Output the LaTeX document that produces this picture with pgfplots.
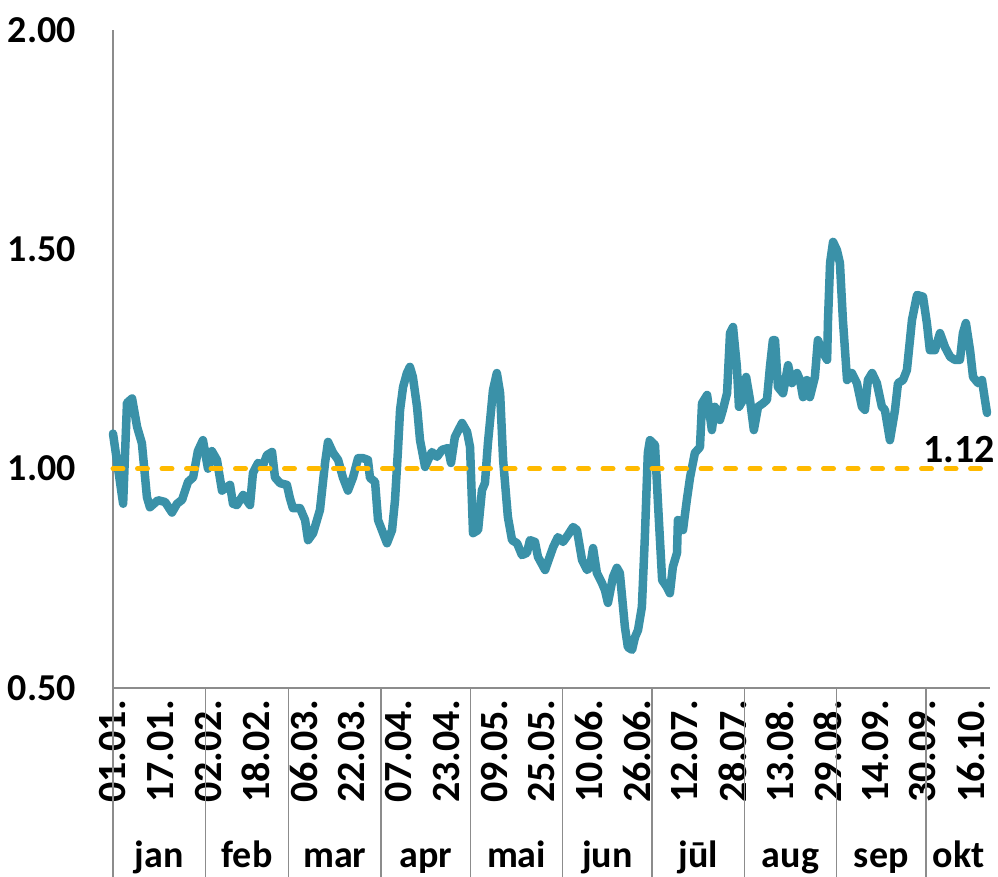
\documentclass[border=0pt]{standalone}
\usepackage{fontspec}
\setmainfont{Carlito}
\usepackage{pgfplots}
\pgfplotsset{compat=1.18}
\definecolor{tealline}{HTML}{3A91A8}
\definecolor{goldline}{HTML}{FFBA00}
\definecolor{axgray}{HTML}{8C8C8C}
\newcommand{\bigf}{\bfseries\fontsize{38}{42}\selectfont}
\newcommand{\datef}{\bfseries\fontsize{40}{44}\selectfont}
\begin{document}
\begin{tikzpicture}
\begin{axis}[
  name=ax,
  scale only axis, width=877pt, height=658pt,
  xmin=0, xmax=294.5, ymin=0.5, ymax=2,
  axis x line=bottom, axis y line=left,
  axis line style={-, axgray, line width=1.5pt},
  major tick length=0pt,
  ytick={0.5,1,1.5,2},
  /pgf/number format/assume math mode=true,
  yticklabel style={/pgf/number format/fixed, /pgf/number format/fixed zerofill,
    /pgf/number format/precision=2, anchor=east, inner sep=0pt, xshift=-37pt, font=\bigf},
  xtick={0,16,...,288},
  xticklabels={01.01.,17.01.,02.02.,18.02.,06.03.,22.03.,07.04.,23.04.,09.05.,25.05.,10.06.,26.06.,12.07.,28.07.,13.08.,29.08.,14.09.,30.09.,16.10.},
  xticklabel style={rotate=90, anchor=east, inner xsep=12pt, inner ysep=0pt, font=\datef},
  tick label style={text=black},
  clip=false,
]
\addplot[tealline, line width=8.5pt, line join=round, line cap=round] coordinates {
(0,1.08)(3.4,0.92)(4.7,1.15)(6.4,1.16)(8.1,1.095)(9.7,1.058)(11.4,0.935)(12.4,0.912)
(15.1,0.928)(17.5,0.924)(19.8,0.90)(21.5,0.92)(23.2,0.929)(25.2,0.97)(26.9,0.98)(28.5,1.04)
(30.2,1.065)(31.9,1.0)(33.2,1.04)(34.9,1.02)(36.6,0.95)(39.3,0.963)(40.3,0.92)(41.6,0.917)
(43.7,0.94)(46.0,0.917)(47.0,0.99)(48.7,1.013)(50.4,1.008)(51.7,1.031)(53.4,1.038)(54.4,0.98)
(56.1,0.967)(58.4,0.963)(59.4,0.933)(60.4,0.91)(62.8,0.91)(64.5,0.883)(65.5,0.837)(67.2,0.853)
(69.5,0.906)(71.2,1.013)(72.2,1.061)(73.9,1.036)(75.6,1.02)(77.2,0.98)(78.9,0.95)(80.6,0.98)
(82.3,1.024)(83.9,1.024)(85.6,1.02)(86.3,0.979)(88.0,0.97)(89.0,0.883)(90.3,0.86)(92.0,0.83)
(93.7,0.86)(94.7,0.928)(95.7,1.043)(96.4,1.134)(97.4,1.186)(98.7,1.218)(99.7,1.232)(100.7,1.209)
(102.1,1.141)(103.1,1.065)(104.8,1.004)(105.8,1.02)(107.1,1.038)(108.8,1.027)(110.5,1.043)(112.5,1.047)
(113.5,1.013)(114.8,1.072)(117.2,1.104)(118.9,1.084)(119.9,1.049)(120.9,0.853)(122.6,0.86)(123.9,0.951)
(124.9,0.967)(125.9,1.058)(127.6,1.179)(128.9,1.218)(130.0,1.172)(131.0,1.02)(132.6,0.89)(134.0,0.837)
(135.7,0.83)(137.3,0.803)(139.0,0.808)(140.0,0.837)(141.7,0.833)(142.7,0.799)(145.1,0.769)(146.7,0.80)
(147.8,0.821)(149.4,0.844)(151.1,0.833)(152.8,0.849)(154.5,0.867)(155.8,0.86)(157.5,0.792)(159.2,0.769)
(160.2,0.776)(161.2,0.819)(162.5,0.762)(164.2,0.739)(165.2,0.723)(166.2,0.694)(167.9,0.753)(169.2,0.774)
(170.2,0.762)(171.9,0.639)(172.9,0.593)(174.3,0.587)(175.3,0.616)(176.3,0.632)(177.6,0.685)(178.6,0.844)
(179.6,1.036)(180.3,1.065)(182.0,1.054)(183.0,0.922)(184.4,0.746)(186.0,0.73)(187.0,0.716)(188.0,0.776)
(189.4,0.808)(189.7,0.883)(191.4,0.86)(192.7,0.929)(193.8,0.981)(195.4,1.036)(197.1,1.049)(197.8,1.149)
(199.5,1.168)(201.1,1.088)(202.1,1.141)(203.8,1.111)(204.8,1.134)(206.2,1.172)(207.2,1.309)(208.2,1.323)
(209.5,1.232)(210.2,1.141)(211.6,1.157)(212.6,1.209)(213.9,1.157)(215.2,1.088)(216.6,1.141)(218.3,1.149)
(219.6,1.157)(220.6,1.232)(221.6,1.293)(222.3,1.293)(223.3,1.186)(225.0,1.172)(226.7,1.236)(228.0,1.195)
(229.7,1.218)(230.7,1.202)(231.7,1.163)(233.0,1.202)(234.0,1.163)(235.7,1.209)(236.7,1.293)(238.0,1.27)
(239.8,1.248)(240.1,1.339)(240.8,1.469)(241.8,1.517)(243.1,1.498)(244.1,1.469)(245.1,1.339)(246.5,1.202)
(248.1,1.218)(249.8,1.195)(251.5,1.141)(252.5,1.134)(253.5,1.202)(254.9,1.218)(256.5,1.195)(258.2,1.141)
(259.2,1.134)(260.9,1.065)(262.6,1.134)(263.6,1.195)(265.3,1.202)(266.6,1.225)(268.3,1.339)(270.0,1.396)
(272.0,1.392)(273.3,1.332)(274.3,1.27)(276.0,1.27)(277.7,1.309)(279.4,1.277)(281.1,1.255)(282.7,1.248)
(284.4,1.248)(285.4,1.309)(286.4,1.332)(287.8,1.27)(288.8,1.209)(290.5,1.195)(291.8,1.202)(292.8,1.157)
(293.5,1.127)
};
\addplot[goldline, line width=5pt, line cap=round, dash pattern=on 10pt off 14.5pt] coordinates {(0,1) (294.5,1)};
\node[anchor=base east, inner sep=0pt, font=\datef, xshift=5pt, yshift=6pt] at (axis cs:294.5,1) {1.12};
\draw[axgray, line width=1.5pt] (axis cs:0,0.5) -- ++(0pt,-189pt);
\draw[axgray, line width=1.5pt] (axis cs:31,0.5) -- ++(0pt,-189pt);
\draw[axgray, line width=1.5pt] (axis cs:59,0.5) -- ++(0pt,-189pt);
\draw[axgray, line width=1.5pt] (axis cs:90,0.5) -- ++(0pt,-189pt);
\draw[axgray, line width=1.5pt] (axis cs:120,0.5) -- ++(0pt,-189pt);
\draw[axgray, line width=1.5pt] (axis cs:151,0.5) -- ++(0pt,-189pt);
\draw[axgray, line width=1.5pt] (axis cs:181,0.5) -- ++(0pt,-189pt);
\draw[axgray, line width=1.5pt] (axis cs:212,0.5) -- ++(0pt,-189pt);
\draw[axgray, line width=1.5pt] (axis cs:243,0.5) -- ++(0pt,-189pt);
\draw[axgray, line width=1.5pt] (axis cs:273,0.5) -- ++(0pt,-189pt);
\node[anchor=base, font=\bigf] at ([yshift=-179pt]axis cs:15.5,0.5) {jan};
\node[anchor=base, font=\bigf] at ([yshift=-179pt]axis cs:45,0.5) {feb};
\node[anchor=base, font=\bigf] at ([yshift=-179pt]axis cs:74.5,0.5) {mar};
\node[anchor=base, font=\bigf] at ([yshift=-179pt]axis cs:105,0.5) {apr};
\node[anchor=base, font=\bigf] at ([yshift=-179pt]axis cs:135.5,0.5) {mai};
\node[anchor=base, font=\bigf] at ([yshift=-179pt]axis cs:166,0.5) {jun};
\node[anchor=base, font=\bigf] at ([yshift=-179pt]axis cs:196.5,0.5) {jūl};
\node[anchor=base, font=\bigf] at ([yshift=-179pt]axis cs:227.5,0.5) {aug};
\node[anchor=base, font=\bigf] at ([yshift=-179pt]axis cs:258,0.5) {sep};
\node[anchor=base, font=\bigf] at ([yshift=-179pt]axis cs:284,0.5) {okt};
\end{axis}
\pgfresetboundingbox
\path[use as bounding box] ([shift={(-113pt,-189pt)}]ax.south west) rectangle ([shift={(8pt,30pt)}]ax.north east);
\end{tikzpicture}
\end{document}
